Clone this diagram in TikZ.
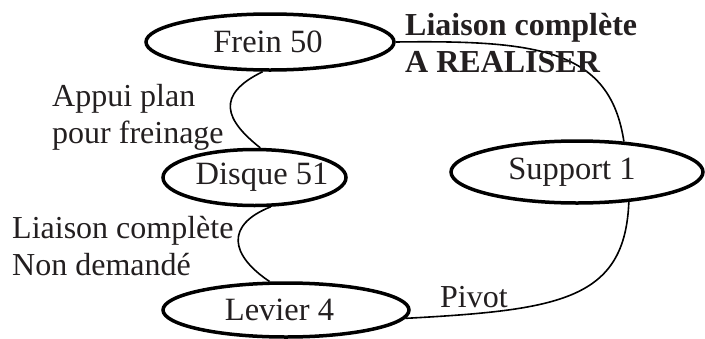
\documentclass[tikz,border=0pt]{standalone}
\usepackage{fontspec}
\setmainfont{Liberation Serif}
\usetikzlibrary{shapes.geometric}
\definecolor{ink}{HTML}{231F20}
\begin{document}
\begin{tikzpicture}[x=1pt,y=-1pt,
  part/.style={ellipse,draw=black,line width=3.5pt,inner sep=0pt,text=ink,
    font=\fontsize{32.5}{36.5}\selectfont},
  link/.style={draw=black,line width=1.6pt},
  lbl/.style={inner sep=0pt,text=ink,align=left,anchor=base west,
    font=\fontsize{32}{36.5}\selectfont}]
\useasboundingbox (0,0) rectangle (705,338);
\node[part,minimum width=248,minimum height=56] (frein) at (270,42) {\makebox[0pt]{Frein 50\hspace*{4pt}}};
\node[part,minimum width=252,minimum height=62] (support) at (577,172) {\makebox[0pt]{Support 1\hspace*{10pt}}};
\node[part,minimum width=183,minimum height=56] (disque) at (254.5,177.5) {\makebox[0pt]{\hspace*{15pt}Disque 51}};
\node[part,minimum width=246,minimum height=54] (levier) at (286,310) {\makebox[0pt]{Levier 4\hspace*{13pt}}};

\draw[link] (frein.east) .. controls (540,40) and (610,50) .. (support.33);
\draw[link] (frein.256) .. controls (215,95) and (225,120) .. (disque.79);
\draw[link] (disque.-61) .. controls (225,225) and (230,255) .. (levier.120);
\draw[link] (support.-30) .. controls (625,300) and (560,310) .. (levier.-4);

\node[lbl] (appui) at (52,143) {Appui plan\\pour freinage};
\node[lbl] (nondem) at (12,275) {Liaison complète\\Non demandé};
\node[lbl] (pivot) at (440,307) {Pivot};
\node[lbl,font=\fontsize{32}{36.5}\selectfont\bfseries] (real) at (405,72) {Liaison complète\\A REALISER};
\end{tikzpicture}
\end{document}
